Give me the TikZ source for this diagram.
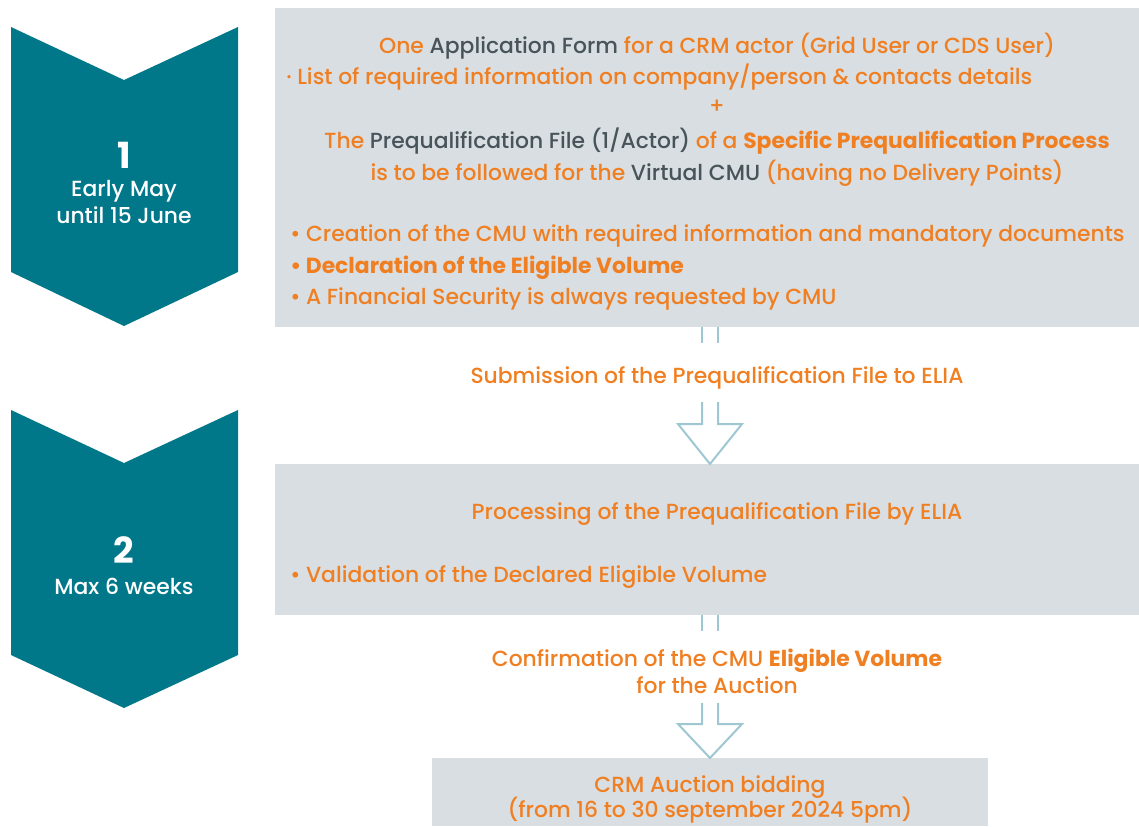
\documentclass[tikz,border=0pt]{standalone}
\usepackage{fontspec}
\setmainfont{Poppins}[UprightFont=* Medium, BoldFont=* Bold]
\definecolor{teal}{HTML}{00788A}
\definecolor{boxgray}{HTML}{D9DEE2}
\definecolor{org}{HTML}{F07F22}
\definecolor{dk}{HTML}{47545A}
\definecolor{arr}{HTML}{9EC7D1}
\tikzset{
  chev/.style={fill=teal, draw=none},
  panel/.style={fill=boxgray, draw=none},
  otext/.style={text=org, font=\fontsize{16.4}{19}\selectfont, inner sep=0pt},
  ctext/.style={text=white, font=\fontsize{16.4}{19}\selectfont, inner sep=0pt},
  flow/.style={draw=arr, line width=1.5pt, fill=none},
}
\newcommand{\dg}[1]{\textcolor{dk}{#1}}
\begin{document}
\begin{tikzpicture}[x=0.75pt,y=-0.75pt]
\useasboundingbox (0,0) rectangle (1139,826);
\fill[white] (0,0) rectangle (1139,826);
% chevrons
\fill[chev] (11,27) -- (124,80) -- (238,27) -- (238,272) -- (124,326) -- (11,272) -- cycle;
\fill[chev] (11,410) -- (124,463) -- (238,410) -- (238,655) -- (124,708) -- (11,655) -- cycle;
\node[ctext, font=\fontsize{27}{30}\selectfont\bfseries] (n1) at (124,155) {1};
\node[ctext] (t1a) at (124,191) {Early May};
\node[ctext] (t1b) at (124,215) {until 15 June};
\node[ctext, font=\fontsize{27}{30}\selectfont\bfseries] (n2) at (124,550) {2};
\node[ctext] (t2a) at (124,586) {Max 6 weeks};
% panels
\fill[panel] (275,8) rectangle (1139,327);
\fill[panel] (275,464) rectangle (1139,615);
\fill[panel] (432,758) rectangle (988,826);
\coordinate (b1) at (710,327);
\coordinate (b2t) at (710,464);
\coordinate (b2) at (710,615);
\coordinate (b3t) at (710,758);
% panel 1 text
\node[otext] (l1) at (717,46) {One \dg{Application Form} for a CRM actor (Grid User or CDS User)};
\node[otext, anchor=west] (l2) at (286,77) {· List of required information on company/person \& contacts details};
\node[otext] (l3) at (717,107) {+};
\node[otext] (l4) at (717,141) {The \dg{Prequalification File (1/Actor)} of a \textbf{Specific Prequalification Process}};
\node[otext] (l5) at (717,173) {is to be followed for the \dg{Virtual CMU} (having no Delivery Points)};
\node[otext, anchor=west] (l6) at (290,236) {• Creation of the CMU with required information and mandatory documents};
\node[otext, anchor=west] (l7) at (290,268) {\textbf{• Declaration of the Eligible Volume}};
\node[otext, anchor=west] (l8) at (290,299) {• A Financial Security is always requested by CMU};
% connector 1
\draw[flow] ([xshift=-6pt]b1) -- ++(0,16);
\draw[flow] ([xshift=6pt]b1) -- ++(0,16);
\node[otext] (s1) at (717,378) {Submission of the Prequalification File to ELIA};
\draw[flow] (702,402) -- (702,424) -- (678,424) -- (b2t) -- (742,424) -- (718,424) -- (718,402);
% panel 2 text
\node[otext] (p1) at (717,514) {Processing of the Prequalification File by ELIA};
\node[otext, anchor=west] (p2) at (290,577) {• Validation of the Declared Eligible Volume};
% connector 2
\draw[flow] ([xshift=-6pt]b2) -- ++(0,16);
\draw[flow] ([xshift=6pt]b2) -- ++(0,16);
\node[otext] (c1) at (717,661) {Confirmation of the CMU \textbf{Eligible Volume}};
\node[otext] (c2) at (717,685) {for the Auction};
\draw[flow] (702,703) -- (702,724) -- (678,724) -- (b3t) -- (742,724) -- (718,724) -- (718,703);
% panel 3 text
\node[otext] (f1) at (710,787) {CRM Auction bidding};
\node[otext] (f2) at (710,810) {(from 16 to 30 september 2024 5pm)};
\end{tikzpicture}
\end{document}
